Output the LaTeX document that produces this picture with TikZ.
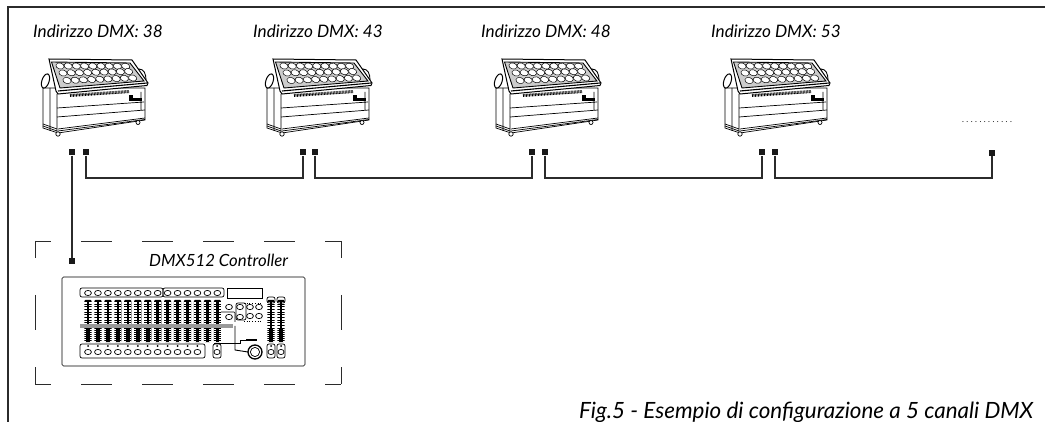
\documentclass[tikz,border=0pt]{standalone}
\usepackage{fontspec}
\setmainfont{Lato}
\definecolor{wirecol}{HTML}{2B2B2B}
\tikzset{
  wire/.style={draw=wirecol,line width=1.05pt},
  plug/.style={draw=none,fill=black!90,minimum size=6pt,inner sep=0pt},
  addr/.style={anchor=base west,inner sep=0pt,font=\fontsize{17.2}{20}\selectfont\itshape},
  thin line/.style={line width=0.7pt},
  lens/.style={fill=white,draw=black,line width=0.5pt},
  pics/lamp/.style={code={
    \draw[thin line,fill=white] (43,88) -- (43,128) -- (58,133) -- (145,120) -- (145,88) -- cycle;
    \draw[thin line] (50,88) -- (50,131) (57,94) -- (57,133) (43,124) -- (57,129) (43,126) -- (57,131);
    \draw[thin line] (57,108) -- (144,102) (57,117) -- (145,110) (141,92) -- (141,110);
    \draw[thin line] (58,129) -- (145,118) (58,131) -- (145,119.5);
    \draw[line width=3pt,dash pattern=on 0.8pt off 0.7pt] (70,95.5) -- (129,91.5);
    \fill (129,95) rectangle (133,101);
    \fill (133,98) rectangle (142,101.5);
    \draw[thin line,fill=white] (58,134) circle (2.2);
    \draw[thin line,fill=white] (138,122.5) circle (2);
    \draw[line width=0.9pt,fill=white] (139,69) .. controls (144,69) and (146,74) .. (146,80) -- (139,80) -- cycle;
    \draw[line width=1pt,fill=white,rotate around={-18:(45.5,81)}] (45.5,81) ellipse (3.6 and 7.4);
    \draw[line width=1pt,fill=white] (49,59) -- (132,60) -- (148,83) -- (147,85.5) -- (58,94) -- (56,91) -- cycle;
    \draw[line width=0.9pt,fill=black!20] (51.5,62) -- (130,63) -- (144,81) -- (60,88) -- cycle;
    \draw[line width=1.1pt] (58,91) -- (147,83);
    \foreach \row/\rowx/\rowy/\rowfall in {0/60/66/0.02,1/63/73/-0.18,2/67/80.5/-0.32}
      \foreach \col in {0,...,8}
        \draw[lens,rotate around={-15:(\rowx+\col*8.2,\rowy+\col*\rowfall)}] (\rowx+\col*8.2,\rowy+\col*\rowfall) ellipse (4.2 and 3);
  }},
  pics/slider/.style={code={
    \fill[rounded corners=1pt] (-3.6,0) rectangle (3.6,42);
    \foreach \tick in {2,3.6,...,28}
      \draw[white,line width=0.55pt] (-3.6,\tick) -- (3.6,\tick);
    \foreach \tick in {29,31,...,41}
      \draw[white,line width=0.4pt] (-3.6,\tick) -- (-1.8,\tick) (1.8,\tick) -- (3.6,\tick);
    \fill (-1.2,0) rectangle (1.2,42);
  }},
  knob/.style={draw=black,fill=white,line width=0.7pt},
}
\begin{document}
\begin{tikzpicture}[x=1pt,y=-1pt]
\useasboundingbox (0,0) rectangle (1045,422);
\draw[wirecol,line width=1.1pt] (8,422) -- (8,7) -- (1045,7);

\foreach \lampx/\labelx/\dmx in {0/33/38,224/253/43,453/481/48,682/711/53}{
  \pic at (\lampx,0) {lamp};
  \node[addr] (addr\dmx) at (\labelx,38) {Indirizzo DMX: \dmx};
}

\node[plug] (inA) at (72,152.5) {};
\node[plug] (outA) at (86,152.5) {};
\node[plug] (inB) at (303,152.5) {};
\node[plug] (outB) at (315,152.5) {};
\node[plug] (inC) at (532,152.5) {};
\node[plug] (outC) at (545,152.5) {};
\node[plug] (inD) at (762,152.5) {};
\node[plug] (outD) at (775,152.5) {};
\node[plug] (inE) at (992,153) {};
\node[plug] (ctrl) at (72,261) {};

\draw[wire] (inA) -- (ctrl);
\draw[wire] (outA) |- (inB |- 0,178) -- (inB);
\draw[wire] (outB) |- (inC |- 0,178) -- (inC);
\draw[wire] (outC) |- (inD |- 0,178) -- (inD);
\draw[wire] (outD) |- (inE |- 0,178) -- (inE);

\node[anchor=base,inner sep=0pt,font=\fontsize{8}{9}\selectfont\addfontfeature{LetterSpace=31}] (more) at (987,123) {............};

\draw[wirecol,line width=0.9pt,dash pattern=on 30.5pt off 30.5pt,dash phase=15pt] (35,241) -- (341,241);
\draw[wirecol,line width=0.9pt,dash pattern=on 30.5pt off 30.5pt,dash phase=15pt] (35,384) -- (341,384);
\draw[wirecol,line width=0.9pt,dash pattern=on 35pt off 37pt,dash phase=18pt] (35,241) -- (35,384);
\draw[wirecol,line width=0.9pt,dash pattern=on 35pt off 37pt,dash phase=18pt] (341,241) -- (341,384);

\node[addr,font=\fontsize{16.8}{20}\selectfont\itshape] (ctrlname) at (149,267) {DMX512 Controller};

\draw[thin line,rounded corners=1.5pt] (62,277) rectangle (305,366);
\draw[thin line,rounded corners=2pt] (80,288) rectangle (163,297);
\draw[thin line,rounded corners=2pt] (163,288) rectangle (224,297);
\draw[thin line] (227,288) rectangle (262,298);
\draw[thin line,rounded corners=2pt] (80,344) rectangle (205,358);

\foreach \fader in {0,...,13}{
  \draw[knob] (88+\fader*9.95,293) ellipse (3.4 and 2.6);
  \pic at (88+\fader*9.95,300) {slider};
}
\foreach \fader in {0,...,11}{
  \draw[knob] (88+\fader*9.95,352) ellipse (3.4 and 2.6);
  \fill (88+\fader*9.95,346) circle (1);
}
\fill[black!40] (80,324) rectangle (233,328);

\pic at (271,300) {slider};
\pic at (281,300) {slider};
\draw[thin line,rounded corners=2pt] (267,297) rectangle (275,303);
\draw[thin line,rounded corners=2pt] (277,297) rectangle (285,303);

\draw[thin line,rounded corners=2pt] (236,303) rectangle (246,320);
\draw[thin line,rounded corners=1pt] (221,312) -- (235,312) -- (235,322);
\foreach \btnx/\btny in {229/307,229/317,240/307,240/317,250/307,250/316,259/307,259/316}
  \draw[knob] (\btnx,\btny) ellipse (3.4 and 2.7);
\draw[thin line,dotted] (244,303) -- (262,303) (244,321) -- (262,321);

\draw[line width=0.9pt] (235,326) -- (235,350) -- (248,352);
\draw[line width=0.9pt] (214,343) -- (240,343) -- (240,340) -- (257,340);
\draw[line width=1.6pt] (246,339.5) -- (257,339.5);
\draw[knob,line width=1.3pt] (255,352) circle (7);
\draw[knob] (255,352) circle (4.6);

\foreach \bankx in {217,271,281}{
  \draw[thin line,rounded corners=2pt,fill=white] (\bankx-4,344) rectangle (\bankx+4,358);
  \fill (\bankx,346) circle (1);
  \draw[knob] (\bankx,352) ellipse (3 and 2.6);
}

\node[addr,font=\fontsize{22.4}{24}\selectfont\itshape] (figcap) at (579,418) {Fig.5 - Esempio di configurazione a 5 canali DMX};
\end{tikzpicture}
\end{document}
